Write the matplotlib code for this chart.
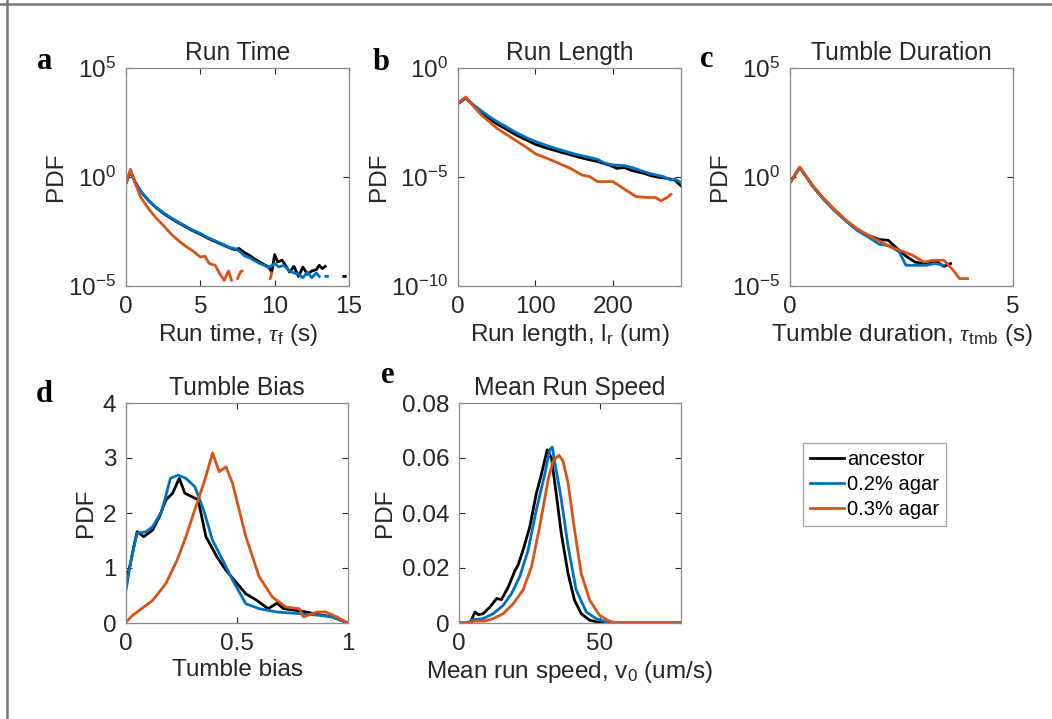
import numpy as np
import matplotlib
matplotlib.use("Agg")
import matplotlib.pyplot as plt
from matplotlib.lines import Line2D

plt.rcParams['font.family'] = ['Liberation Sans', 'DejaVu Sans']
plt.rcParams['mathtext.fontset'] = 'custom'
plt.rcParams['mathtext.rm'] = 'Liberation Sans'
plt.rcParams['mathtext.it'] = 'Liberation Serif:italic'
plt.rcParams['mathtext.default'] = 'regular'

K = '#000000'
B = '#0072BD'
R = '#D95319'
labels = ['ancestor', '0.2% agar', '0.3% agar']

# ---- a: run time (log10 of PDF) ----
rt_x_k = [0, 0.3, 0.6, 1.0, 1.5, 2.0, 2.5, 3.0, 3.5, 4.0, 4.5, 5.0, 5.5, 6.0, 6.5, 7.0,
          7.3, 7.6, 8.0, 8.3, 8.6, 9.0, 9.3, 9.6, 9.8, 10.0, 10.2, 10.5, 10.8, 11.0, 11.3,
          11.6, 11.9, 12.2, 12.5, 12.8, 13.0, 13.2, 13.4, 14.0, 14.65, 14.75]
rt_y_k = [-0.29, 0.25, -0.21, -0.67, -1.07, -1.39, -1.66, -1.89, -2.09, -2.28, -2.47, -2.62,
          -2.81, -2.96, -3.11, -3.26, -3.33, -3.28, -3.48, -3.59, -3.74, -3.90, -4.02, -4.13,
          -4.36, -3.56, -3.90, -3.82, -4.13, -4.36, -4.10, -4.56, -4.13, -4.46, -4.31, -4.25,
          -4.05, -4.20, -4.10, np.nan, -4.56, -4.56]
rt_x_b = [0, 0.3, 0.6, 1.0, 1.5, 2.0, 2.5, 3.0, 3.5, 4.0, 4.5, 5.0, 5.5, 6.0, 6.5, 7.0,
          7.3, 7.6, 8.0, 8.3, 8.6, 9.0, 9.3, 9.6, 10.0, 10.3, 10.6, 11.0, 11.3, 11.6, 11.9,
          12.2, 12.5, 12.8, 13.0, 13.2, 13.45, 13.55]
rt_y_b = [-0.29, 0.25, -0.21, -0.67, -1.06, -1.37, -1.63, -1.86, -2.06, -2.25, -2.44, -2.59,
          -2.78, -2.93, -3.08, -3.24, -3.28, -3.39, -3.63, -3.70, -3.82, -3.97, -4.05, -4.16,
          -3.97, -4.13, -4.05, -4.31, -4.40, -4.46, -4.62, -4.36, -4.62, -4.40, -4.56, np.nan,
          -4.56, -4.56]
rt_x_r = [0, 0.3, 0.6, 1.0, 1.5, 2.0, 2.5, 3.0, 3.5, 4.0, 4.5, 5.0, 5.3, 5.6, 6.0, 6.3, 6.6,
          6.9, 7.1, 7.3, 7.5, 7.7, 7.8, 8.5, 9.7, 9.8]
rt_y_r = [-0.26, 0.35, -0.26, -0.94, -1.44, -1.86, -2.21, -2.59, -2.90, -3.17, -3.39, -3.67,
          -3.63, -3.97, -4.05, -4.43, -4.74, -4.31, -4.74, np.nan, -4.66, -4.36, -4.31, np.nan,
          -4.66, -4.40]

# ---- b: run length ----
rl_x_k = [0, 10, 20, 30, 40, 50, 60, 75, 90, 100, 115, 130, 150, 165, 180, 195, 205, 215,
          225, 240, 250, 260, 270, 280, 288]
rl_y_k = [-1.64, -1.38, -1.73, -2.04, -2.30, -2.56, -2.76, -3.07, -3.33, -3.50, -3.68, -3.83,
          -4.03, -4.17, -4.29, -4.45, -4.60, -4.57, -4.71, -4.83, -4.95, -5.02, -5.06, -5.14,
          -5.41]
rl_x_b = [0, 10, 20, 30, 40, 50, 60, 75, 90, 100, 115, 130, 150, 165, 180, 190, 200, 215,
          225, 240, 250, 265, 275, 280, 288]
rl_y_b = [-1.58, -1.38, -1.69, -1.96, -2.22, -2.45, -2.65, -2.96, -3.22, -3.37, -3.56, -3.73,
          -3.94, -4.06, -4.19, -4.37, -4.45, -4.48, -4.57, -4.75, -4.86, -4.98, -5.14, -5.09,
          -5.26]
rl_x_r = [0, 10, 20, 30, 40, 50, 60, 75, 90, 100, 115, 130, 145, 160, 170, 180, 190, 200,
          210, 220, 230, 245, 255, 262, 270, 275]
rl_y_r = [-1.61, -1.33, -1.76, -2.15, -2.45, -2.76, -2.99, -3.33, -3.68, -3.94, -4.14, -4.37,
          -4.60, -4.91, -4.98, -5.21, -5.21, -5.21, -5.44, -5.67, -5.90, -5.94, -5.94, -6.09,
          -5.94, -5.80]

# ---- c: tumble duration ----
td_x_k = [0, 0.22, 0.5, 0.75, 1.0, 1.25, 1.5, 1.75, 2.0, 2.2, 2.4, 2.6, 2.8, 3.05, 3.3, 3.45, 3.6]
td_y_k = [-0.26, 0.44, -0.38, -1.00, -1.52, -1.99, -2.41, -2.67, -2.87, -2.90, -3.28, -3.63,
          -3.90, -4.00, -3.90, -4.10, -3.97]
td_x_b = [0, 0.22, 0.5, 0.75, 1.0, 1.25, 1.5, 1.75, 2.0, 2.25, 2.45, 2.6, 2.8, 3.05, 3.25, 3.45]
td_y_b = [-0.26, 0.44, -0.41, -1.03, -1.55, -2.01, -2.44, -2.75, -3.08, -3.17, -3.44, -4.05,
          -4.05, -4.05, -3.97, -4.05]
td_x_r = [0, 0.22, 0.5, 0.75, 1.0, 1.25, 1.5, 1.75, 2.0, 2.25, 2.5, 2.75, 3.0, 3.2, 3.45,
          3.65, 3.8, 3.98]
td_y_r = [-0.26, 0.44, -0.37, -0.98, -1.49, -1.98, -2.36, -2.67, -2.93, -3.21, -3.39, -3.59,
          -3.90, -3.82, -3.82, -4.25, -4.66, -4.66]

# ---- d: tumble bias ----
tb_x_k = [0, 0.02, 0.04, 0.05, 0.08, 0.12, 0.15, 0.18, 0.21, 0.24, 0.265, 0.295, 0.325, 0.36,
          0.41, 0.45, 0.5, 0.54, 0.59, 0.64, 0.68, 0.71, 0.75, 0.81, 0.87, 0.93, 1.0]
tb_y_k = [0.75, 1.08, 1.48, 1.66, 1.57, 1.69, 1.93, 2.24, 2.36, 2.63, 2.36, 2.30, 2.24, 1.57,
          1.20, 0.96, 0.72, 0.53, 0.41, 0.26, 0.36, 0.26, 0.24, 0.20, 0.15, 0.11, 0.0]
tb_x_b = [0, 0.025, 0.05, 0.09, 0.12, 0.16, 0.2, 0.235, 0.27, 0.31, 0.35, 0.39, 0.44, 0.48,
          0.54, 0.6, 0.68, 0.78, 0.87, 0.93, 1.0]
tb_y_b = [0.60, 1.20, 1.63, 1.66, 1.75, 2.02, 2.63, 2.69, 2.63, 2.48, 2.05, 1.50, 1.11, 0.78,
          0.35, 0.26, 0.20, 0.17, 0.14, 0.11, 0.0]
tb_x_r = [0, 0.03, 0.08, 0.12, 0.18, 0.23, 0.27, 0.32, 0.355, 0.39, 0.42, 0.45, 0.48, 0.54,
          0.6, 0.66, 0.72, 0.78, 0.8, 0.86, 0.9, 0.95, 1.0]
tb_y_r = [0.02, 0.14, 0.29, 0.41, 0.72, 1.14, 1.57, 2.18, 2.60, 3.09, 2.75, 2.84, 2.54, 1.57,
          0.84, 0.47, 0.29, 0.26, 0.11, 0.20, 0.20, 0.11, 0.0]

# ---- e: mean run speed ----
sp_x_k = [0, 3.9, 5.7, 6.9, 8.6, 11, 13.4, 15.1, 17.5, 19.9, 21, 22.8, 25.2, 27.5, 29.3, 31.4,
          32.9, 34.6, 36.4, 38.8, 41.1, 43.5, 46.5, 50, 52, 79]
sp_y_k = [0, 0, 0.004, 0.003, 0.0034, 0.0058, 0.0089, 0.0085, 0.013, 0.019, 0.021, 0.0265,
          0.035, 0.047, 0.054, 0.063, 0.060, 0.047, 0.0326, 0.018, 0.0083, 0.0034, 0.001,
          0.0002, 0, 0]
sp_x_b = [0, 2.7, 5.1, 8.6, 12.2, 15.7, 18.7, 21.6, 24.6, 27.5, 30.5, 32.3, 33.2, 34, 36.4,
          38.8, 41.7, 45.3, 48.8, 52.4, 55, 79]
sp_y_b = [0, 0, 0.0012, 0.0016, 0.0034, 0.0064, 0.0107, 0.0168, 0.0265, 0.041, 0.054, 0.063,
          0.064, 0.059, 0.045, 0.028, 0.012, 0.004, 0.0016, 0.0004, 0, 0]
sp_x_r = [0, 2.7, 5.7, 9.2, 12.2, 15.7, 19.3, 22.8, 25.8, 28.7, 31.7, 33.5, 35.5, 37, 38.8,
          41.1, 43.5, 46.5, 50, 53.5, 56, 79]
sp_y_r = [0, 0, 0.0007, 0.0007, 0.0016, 0.0034, 0.007, 0.012, 0.0204, 0.035, 0.052, 0.059,
          0.061, 0.059, 0.051, 0.034, 0.018, 0.0083, 0.0028, 0.0007, 0, 0]

W, H = 1052, 719
fig = plt.figure(figsize=(W / 100, H / 100), dpi=100)

def box(l, t, r, b):
    return [l / W, 1 - b / H, (r - l) / W, (b - t) / H]

def style(ax, title, xlabel, ylabelpad=4):
    ax.set_title(title, fontsize=17.7, color='#262626', pad=6)
    ax.set_xlabel(xlabel, fontsize=17.5, color='#262626', labelpad=3)
    ax.set_ylabel('PDF', fontsize=17.5, color='#262626', labelpad=ylabelpad)
    ax.tick_params(direction='in', top=True, right=True, labelsize=17.5, pad=7,
                   colors='#262626', length=4, width=0.8)
    ax.tick_params(which='minor', left=False, right=False, bottom=False, top=False)
    for s in ax.spines.values():
        s.set_color('#8c8c8c')
        s.set_linewidth(0.9)

lw = 2.0

ax = fig.add_axes(box(126, 68, 349, 286))
ax.plot(rt_x_k, 10.0 ** np.array(rt_y_k), color=K, lw=lw)
ax.plot(rt_x_b, 10.0 ** np.array(rt_y_b), color=B, lw=lw)
ax.plot(rt_x_r, 10.0 ** np.array(rt_y_r), color=R, lw=lw)
ax.set_yscale('log')
ax.set_ylim(1e-5, 1e5)
ax.set_yticks([1e-5, 1e0, 1e5])
ax.set_xlim(0, 15)
ax.set_xticks([0, 5, 10, 15])
style(ax, 'Run Time', r'Run time, $\mathit{\tau}_{\mathrm{f}}$ (s)', ylabelpad=1)

ax = fig.add_axes(box(458, 68, 681, 286))
ax.plot(rl_x_k, 10.0 ** np.array(rl_y_k), color=K, lw=lw)
ax.plot(rl_x_b, 10.0 ** np.array(rl_y_b), color=B, lw=lw)
ax.plot(rl_x_r, 10.0 ** np.array(rl_y_r), color=R, lw=lw)
ax.set_yscale('log')
ax.set_ylim(1e-10, 1e0)
ax.set_yticks([1e-10, 1e-5, 1e0])
ax.set_xlim(0, 288)
ax.set_xticks([0, 100, 200])
style(ax, 'Run Length', r'Run length, l$_{\mathrm{r}}$ (um)', ylabelpad=1)

ax = fig.add_axes(box(790, 68, 1013, 286))
ax.plot(td_x_k, 10.0 ** np.array(td_y_k), color=K, lw=lw)
ax.plot(td_x_b, 10.0 ** np.array(td_y_b), color=B, lw=lw)
ax.plot(td_x_r, 10.0 ** np.array(td_y_r), color=R, lw=lw)
ax.set_yscale('log')
ax.set_ylim(1e-5, 1e5)
ax.set_yticks([1e-5, 1e0, 1e5])
ax.set_xlim(0, 5)
ax.set_xticks([0, 5])
style(ax, 'Tumble Duration', r'Tumble duration, $\mathit{\tau}_{\mathrm{tmb}}$ (s)', ylabelpad=1)

ax = fig.add_axes(box(126, 403, 348, 623))
ax.plot(tb_x_k, tb_y_k, color=K, lw=lw)
ax.plot(tb_x_b, tb_y_b, color=B, lw=lw)
ax.plot(tb_x_r, tb_y_r, color=R, lw=lw)
ax.set_xlim(0, 1)
ax.set_ylim(0, 4)
ax.set_xticks([0, 0.5, 1])
ax.set_xticklabels(['0', '0.5', '1'])
ax.set_yticks([0, 1, 2, 3, 4])
style(ax, 'Tumble Bias', 'Tumble bias')

ax = fig.add_axes(box(459, 403, 681, 623))
h1, = ax.plot(sp_x_k, sp_y_k, color=K, lw=lw)
h2, = ax.plot(sp_x_b, sp_y_b, color=B, lw=lw)
h3, = ax.plot(sp_x_r, sp_y_r, color=R, lw=lw)
ax.set_xlim(0, 79)
ax.set_ylim(0, 0.08)
ax.set_xticks([0, 50])
ax.set_yticks([0, 0.02, 0.04, 0.06, 0.08])
ax.set_yticklabels(['0', '0.02', '0.04', '0.06', '0.08'])
style(ax, 'Mean Run Speed', r'Mean run speed, v$_{\mathrm{0}}$ (um/s)')

leg = fig.legend([h1, h2, h3], labels, loc='upper left',
                 bbox_to_anchor=(803 / W, 1 - 443 / H), fontsize=14.5,
                 handlelength=1.7, handletextpad=0.15, borderpad=0.35,
                 labelspacing=0.3, borderaxespad=0, fancybox=False)
leg.get_frame().set_edgecolor('#8c8c8c')
leg.get_frame().set_linewidth(0.9)

for letter, x, y in [('a', 45, 69), ('b', 381, 70), ('c', 707, 67), ('d', 44, 402), ('e', 388, 383)]:
    fig.text(x / W, 1 - y / H, letter, family='Liberation Serif', weight='bold',
             fontsize=22, ha='center', va='baseline')

# outer frame lines (left and top)
fig.add_artist(Line2D([6.5 / W, 6.5 / W], [0, 1], transform=fig.transFigure, color='#777777', lw=1.8))
fig.add_artist(Line2D([0, 1], [1 - 3.5 / H, 1 - 3.5 / H], transform=fig.transFigure, color='#777777', lw=1.8))

fig.savefig('out.png', dpi=100)
